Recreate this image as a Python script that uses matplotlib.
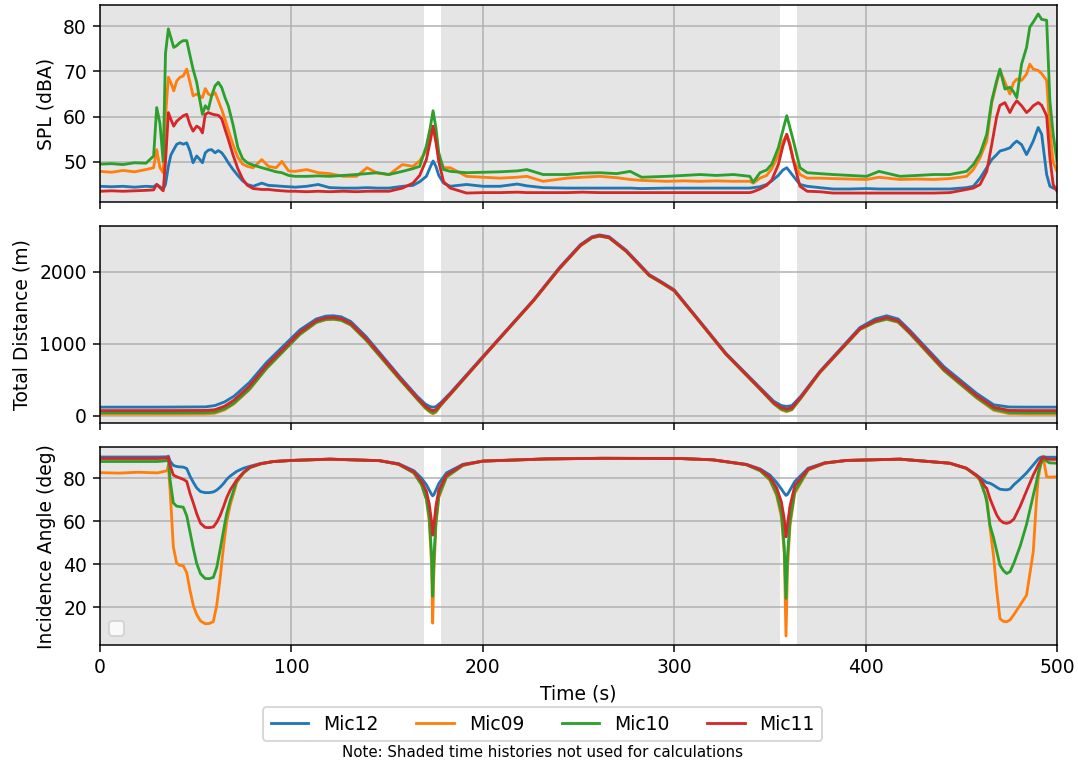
import numpy as np
import matplotlib
matplotlib.use("Agg")
import matplotlib.pyplot as plt

mics = ["Mic12", "Mic09", "Mic10", "Mic11"]
colors = ["C0", "C1", "C2", "C3"]

# periods used for calculations (everything else shaded)
shaded = [(0, 169.3), (178.0, 355.3), (364.0, 500)]

# ---- SPL time history (dBA) ----
t_spl = [0, 6, 12, 18, 24, 28, 29.6, 31.3, 33, 34.2,
         35.7, 37, 38.5, 40.1, 41.8, 43.5, 45.3, 47, 48.6, 50.5,
         52.2, 53.5, 55, 56.6, 58.3, 60.1, 61.8, 63.6, 65.3, 67,
         69.5, 72, 74.5, 77, 80, 84.5, 88, 92, 95, 98.5,
         102, 108, 114, 120, 127, 134, 139.5, 145, 151, 158,
         163.5, 167, 170.5, 172.5, 174, 175.5, 177, 179.5, 183, 191.5,
         200, 209, 218, 223, 231.5, 244, 252, 261, 270, 277,
         283, 296, 305, 313.5, 322, 331, 339.5, 341.3, 344.8, 348.3,
         351, 354.4, 356.8, 358.8, 360.5, 362.3, 365.7, 369.5, 376, 383,
         392, 400.5, 407, 418, 427, 435.4, 444, 452.8, 456.3, 459.8,
         463.3, 465.9, 468.5, 470.2, 472.8, 475.4, 477.3, 479, 481.5, 484.1,
         485.8, 487.6, 490.2, 492, 494.6, 496.3, 498, 500]

spl_mic12 = [44.6, 44.5, 44.6, 44.4, 44.6, 44.5, 45.0, 44.5, 43.9, 45.0,
             49.0, 51.5, 52.7, 53.9, 54.2, 53.9, 54.2, 52.4, 49.8, 51.3,
             50.5, 49.8, 52.0, 52.6, 52.7, 52.0, 52.5, 52.0, 51.0, 49.8,
             48.3, 47.0, 45.8, 45.0, 44.6, 45.3, 44.8, 44.7, 44.6, 44.5,
             44.4, 44.6, 45.0, 44.3, 44.2, 44.2, 44.3, 44.2, 44.2, 44.6,
             44.8, 45.6, 46.8, 48.8, 50.2, 49.0, 47.0, 45.3, 44.6, 45.0,
             44.6, 44.6, 45.1, 44.7, 44.3, 44.2, 44.2, 44.2, 44.2, 44.2,
             44.1, 44.2, 44.2, 44.2, 44.2, 44.2, 44.2, 44.3, 44.5, 45.0,
             45.8, 47.0, 48.2, 48.7, 47.8, 46.8, 45.0, 44.6, 44.3, 44.0,
             44.0, 44.1, 44.0, 44.0, 44.0, 44.0, 44.0, 44.3, 44.6, 46.4,
             48.7, 50.5, 51.6, 52.4, 52.7, 53.1, 54.0, 54.6, 53.8, 51.6,
             53.0, 54.6, 57.6, 56.1, 47.2, 44.6, 44.2, 43.9]

spl_mic09 = [47.9, 47.7, 48.1, 47.8, 48.3, 48.7, 52.7, 48.7, 47.6, 60.0,
             68.7, 67.5, 65.7, 67.9, 68.7, 69.0, 70.5, 67.6, 64.6, 65.0,
             64.5, 64.2, 66.2, 65.0, 64.6, 65.3, 63.5, 61.5, 59.4, 57.0,
             53.8, 51.0, 49.5, 49.0, 48.7, 50.5, 49.0, 48.7, 50.1, 48.0,
             47.9, 48.3, 47.6, 47.4, 46.8, 46.8, 48.7, 47.5, 47.2, 49.4,
             49.0, 50.2, 52.5, 55.5, 57.5, 54.5, 51.0, 48.7, 48.7, 46.8,
             46.6, 46.4, 46.6, 46.8, 45.7, 46.4, 46.6, 46.8, 46.5, 46.1,
             45.9, 45.7, 45.8, 45.7, 45.8, 45.7, 45.7, 45.3, 46.4, 47.0,
             48.5, 51.5, 54.5, 56.0, 54.0, 50.5, 47.2, 46.4, 46.4, 46.3,
             46.2, 46.1, 46.6, 46.1, 46.2, 46.1, 46.3, 46.8, 48.3, 50.9,
             54.6, 63.0, 67.5, 70.2, 67.6, 65.0, 67.5, 68.3, 68.0, 69.4,
             71.6, 70.5, 70.2, 69.5, 68.0, 57.0, 50.0, 47.9]

spl_mic10 = [49.5, 49.6, 49.4, 49.8, 49.7, 51.3, 62.0, 58.5, 50.1, 74.0,
             79.4, 77.5, 75.3, 75.7, 76.4, 76.8, 76.8, 73.5, 70.5, 67.6,
             63.5, 60.5, 62.4, 61.6, 64.6, 66.8, 67.6, 66.4, 64.2, 62.4,
             58.2, 53.2, 50.7, 49.8, 49.3, 48.7, 48.3, 47.8, 47.6, 47.0,
             46.8, 46.8, 46.9, 46.8, 47.0, 47.2, 47.4, 47.6, 47.2, 47.9,
             48.5, 49.0, 53.5, 57.5, 61.3, 57.5, 52.0, 48.3, 47.9, 47.6,
             47.7, 47.8, 48.0, 48.3, 47.2, 47.2, 47.5, 47.6, 47.4, 47.9,
             46.6, 46.8, 47.0, 47.2, 47.0, 47.2, 46.8, 45.5, 47.6, 48.2,
             49.5, 53.1, 57.0, 60.2, 57.5, 54.6, 48.7, 47.6, 47.4, 47.2,
             47.0, 46.8, 47.9, 46.8, 47.0, 47.2, 47.2, 47.9, 49.4, 51.8,
             56.1, 63.5, 68.0, 70.5, 66.1, 66.5, 65.5, 64.2, 71.6, 75.3,
             79.8, 80.9, 82.7, 81.5, 81.3, 63.5, 56.1, 50.2]

spl_mic11 = [43.5, 43.6, 43.5, 43.6, 43.7, 43.8, 45.0, 44.3, 43.6, 50.0,
             60.9, 59.4, 57.9, 59.0, 59.6, 60.2, 60.5, 58.2, 56.8, 57.9,
             57.4, 56.4, 60.5, 60.9, 60.6, 60.4, 60.3, 59.5, 57.2, 55.0,
             51.5, 48.5, 46.2, 44.8, 44.1, 43.9, 43.9, 43.7, 43.6, 43.5,
             43.5, 43.4, 43.5, 43.4, 43.5, 43.4, 43.5, 43.5, 43.5, 44.2,
             45.3, 47.0, 50.5, 54.5, 57.9, 54.5, 50.0, 45.6, 44.2, 43.1,
             43.2, 43.2, 43.3, 43.2, 43.2, 43.2, 43.3, 43.2, 43.2, 43.2,
             43.2, 43.2, 43.2, 43.2, 43.2, 43.2, 43.2, 43.4, 44.0, 44.8,
             46.0, 49.4, 53.5, 56.1, 53.5, 50.2, 44.6, 43.5, 43.4, 43.1,
             43.1, 43.1, 43.1, 43.1, 43.1, 43.1, 43.2, 43.9, 44.2, 45.0,
             47.9, 53.8, 60.0, 62.5, 63.1, 60.9, 62.5, 63.5, 62.4, 60.9,
             61.5, 62.4, 63.1, 62.5, 60.2, 50.9, 45.0, 43.5]

# ---- total distance (m) ----
t_dist = [0, 30, 55, 60, 65, 70, 78, 87, 96, 104.5,
          113, 118, 122, 126, 131, 139, 148, 157, 165.5, 170,
          172.5, 174, 175.5, 178, 183, 200, 226.5, 240, 251, 257,
          261, 266, 275, 287, 293, 300, 310, 327, 345, 352,
          356, 358.8, 361.5, 366, 376, 397, 405, 411, 417, 423,
          441, 458, 467, 475, 485, 500]

dist_mic12 = [118, 118, 122, 140, 190, 270, 460, 740, 975, 1195,
              1345, 1385, 1390, 1375, 1310, 1100, 815, 530, 275, 160,
              125, 118, 125, 180, 315, 822, 1610, 2060, 2380, 2490,
              2515, 2490, 2300, 1962, 1868, 1750, 1425, 868, 385, 200,
              140, 128, 140, 265, 612, 1225, 1345, 1390, 1345, 1190,
              680, 310, 150, 120, 118, 118]

dist_mic09 = [22, 22, 24, 33, 80, 165, 360, 655, 900, 1130,
              1295, 1335, 1340, 1325, 1260, 1050, 770, 490, 235, 100,
              45, 25, 48, 140, 292, 808, 1598, 2043, 2363, 2473,
              2498, 2473, 2283, 1946, 1853, 1736, 1411, 853, 362, 165,
              80, 55, 80, 235, 595, 1198, 1300, 1340, 1300, 1145,
              625, 245, 75, 28, 22, 22]

dist_mic10 = [40, 40, 42, 50, 95, 175, 370, 660, 905, 1135,
              1300, 1340, 1345, 1330, 1265, 1055, 775, 495, 240, 110,
              60, 42, 60, 145, 295, 810, 1600, 2045, 2365, 2475,
              2500, 2475, 2285, 1948, 1855, 1738, 1413, 855, 365, 170,
              90, 70, 90, 240, 598, 1200, 1305, 1345, 1305, 1150,
              630, 255, 90, 45, 40, 40]

dist_mic11 = [70, 70, 72, 82, 130, 215, 410, 697, 935, 1162,
              1320, 1360, 1365, 1350, 1285, 1075, 795, 512, 256, 130,
              85, 70, 85, 160, 302, 814, 1604, 2050, 2371, 2480,
              2505, 2480, 2290, 1953, 1860, 1743, 1418, 860, 372, 180,
              110, 93, 110, 250, 604, 1209, 1320, 1365, 1320, 1165,
              651, 279, 116, 72, 70, 70]

# ---- incidence angle (deg) ----
t_ang = [0, 10, 20, 30, 35, 35.7, 36.6, 38.3, 40, 41.5,
         43.5, 45.3, 47, 48.8, 50.5, 52.5, 54.9, 57, 59.2, 61,
         62.7, 64.5, 66.2, 68, 71.4, 75, 78.4, 84, 90.6, 100,
         120, 146, 156, 164, 168, 170.5, 172, 173.2, 173.8, 174.4,
         175.5, 177, 181, 189.6, 200, 233, 262, 303, 320, 337.7,
         345, 350, 353.5, 356, 357.5, 358.4, 359.2, 360.5, 363, 370,
         378.6, 390, 418, 444, 452.6, 457.9, 459.7, 462.5, 463.3, 465,
         466.8, 468.5, 470.2, 472, 473.7, 475.5, 477.5, 480.8, 484.1, 487.6,
         489.3, 490.2, 491.5, 492.9, 494.6, 496, 500]

ang_mic12 = [89.9, 89.9, 89.9, 89.9, 90.0, 90.3, 88.0, 86.0, 85.5, 85.3,
             85.2, 84.5, 81.0, 78.0, 75.5, 73.8, 73.3, 73.3, 73.6, 74.5,
             75.8, 77.5, 79.5, 81.0, 83.2, 84.7, 85.6, 86.9, 87.8, 88.3,
             88.9, 88.2, 86.8, 83.5, 80.0, 77.0, 74.5, 72.5, 71.8, 72.3,
             74.5, 77.5, 82.5, 86.5, 88.0, 89.0, 89.3, 89.2, 88.6, 86.5,
             84.3, 81.5, 78.0, 75.0, 73.0, 72.0, 72.5, 74.5, 78.5, 84.7,
             87.2, 88.3, 88.9, 87.0, 84.7, 81.5, 80.3, 78.5, 78.0, 77.7,
             76.8, 75.8, 74.9, 74.7, 74.6, 75.0, 77.0, 79.6, 82.5, 86.2,
             88.0, 89.0, 89.8, 90.0, 89.8, 89.8, 89.8]

ang_mic09 = [82.6, 82.4, 82.8, 82.5, 83.5, 86.0, 74.5, 48.0, 40.5, 39.5,
             39.2, 36.0, 27.8, 20.5, 16.5, 13.5, 12.2, 12.3, 13.2, 21.0,
             33.0, 48.0, 60.0, 67.5, 78.0, 82.5, 85.0, 86.7, 87.8, 88.3,
             88.9, 88.2, 86.5, 82.5, 77.0, 70.0, 60.0, 40.0, 12.5, 35.0,
             58.0, 71.0, 80.5, 86.0, 88.0, 89.0, 89.3, 89.2, 88.6, 86.3,
             83.5, 79.0, 72.0, 62.0, 45.0, 6.5, 38.0, 58.0, 73.0, 83.8,
             87.0, 88.3, 88.9, 87.0, 84.6, 81.0, 79.0, 72.5, 70.7, 57.0,
             44.2, 28.0, 14.6, 13.3, 13.1, 14.0, 16.5, 21.0, 25.5, 45.7,
             70.0, 80.0, 86.5, 89.3, 80.7, 80.5, 80.7]

ang_mic10 = [87.8, 87.8, 87.8, 87.8, 88.2, 88.8, 79.2, 68.5, 67.0, 66.8,
             66.5, 62.5, 55.0, 47.0, 40.3, 35.5, 33.3, 33.2, 33.8, 38.5,
             46.5, 55.5, 63.6, 69.5, 78.7, 82.5, 85.0, 86.7, 87.8, 88.3,
             88.9, 88.2, 86.5, 82.5, 77.0, 70.5, 62.0, 45.0, 25.0, 42.0,
             60.0, 72.0, 80.7, 86.0, 88.0, 89.0, 89.3, 89.2, 88.6, 86.3,
             83.5, 79.5, 73.0, 64.0, 48.0, 24.0, 44.0, 60.0, 74.0, 84.0,
             87.0, 88.3, 88.9, 87.0, 84.6, 81.2, 79.5, 72.2, 69.0, 58.0,
             52.5, 46.0, 39.5, 37.0, 35.6, 36.5, 40.5, 48.5, 58.5, 72.0,
             78.4, 82.5, 86.5, 89.3, 88.0, 87.2, 87.0]

ang_mic11 = [89.2, 89.2, 89.2, 89.2, 89.4, 89.8, 86.0, 81.5, 80.7, 80.2,
             79.5, 78.5, 73.0, 68.3, 63.5, 59.0, 57.1, 57.0, 57.3, 59.5,
             62.5, 66.7, 71.0, 74.5, 79.2, 82.8, 85.2, 86.8, 87.8, 88.3,
             88.9, 88.2, 86.6, 83.0, 78.5, 74.0, 68.0, 60.0, 53.5, 58.0,
             67.0, 74.5, 81.5, 86.3, 88.0, 89.0, 89.3, 89.2, 88.6, 86.4,
             84.0, 80.5, 75.5, 69.0, 61.0, 52.7, 58.5, 67.0, 76.5, 84.3,
             87.1, 88.3, 88.9, 87.0, 84.7, 81.4, 80.0, 76.0, 75.3, 70.5,
             66.5, 62.9, 60.5, 59.3, 59.0, 59.5, 61.0, 67.0, 74.1, 81.5,
             84.5, 86.2, 88.3, 90.0, 89.0, 88.8, 88.8]

spl = [spl_mic12, spl_mic09, spl_mic10, spl_mic11]
dist = [dist_mic12, dist_mic09, dist_mic10, dist_mic11]
ang = [ang_mic12, ang_mic09, ang_mic10, ang_mic11]

fig = plt.figure(figsize=(1078 / 135, 767 / 135), dpi=135)
ax1 = fig.add_axes([0.0928, 0.7366, 0.8877, 0.2569])
ax2 = fig.add_axes([0.0928, 0.4485, 0.8877, 0.2569], sharex=ax1)
ax3 = fig.add_axes([0.0928, 0.1591, 0.8877, 0.2579], sharex=ax1)

for ax, tt, data in [(ax1, t_spl, spl), (ax2, t_dist, dist), (ax3, t_ang, ang)]:
    for a, b in shaded:
        ax.axvspan(a, b, color="gray", alpha=0.2, lw=0)
    for y, c, lab in zip(data, colors, mics):
        ax.plot(tt, y, color=c, label=lab)
    ax.grid(True)

ax1.set_xlim(0, 500)
ax1.tick_params(labelbottom=False)
ax2.tick_params(labelbottom=False)

ax1.set_ylabel("SPL (dBA)")
ax2.set_ylabel("Total Distance (m)")
ax3.set_ylabel("Incidence Angle (deg)")
ax3.set_xlabel("Time (s)")

ax3.legend(handles=[], loc="lower left")

handles, labels = ax1.get_legend_handles_labels()
fig.legend(handles, labels, loc="center", ncol=4, bbox_to_anchor=(0.5037, 0.056))
fig.text(0.5037, 0.0195, "Note: Shaded time histories not used for calculations",
         ha="center", va="center", fontsize=8)

fig.savefig("out.png", dpi=135)
